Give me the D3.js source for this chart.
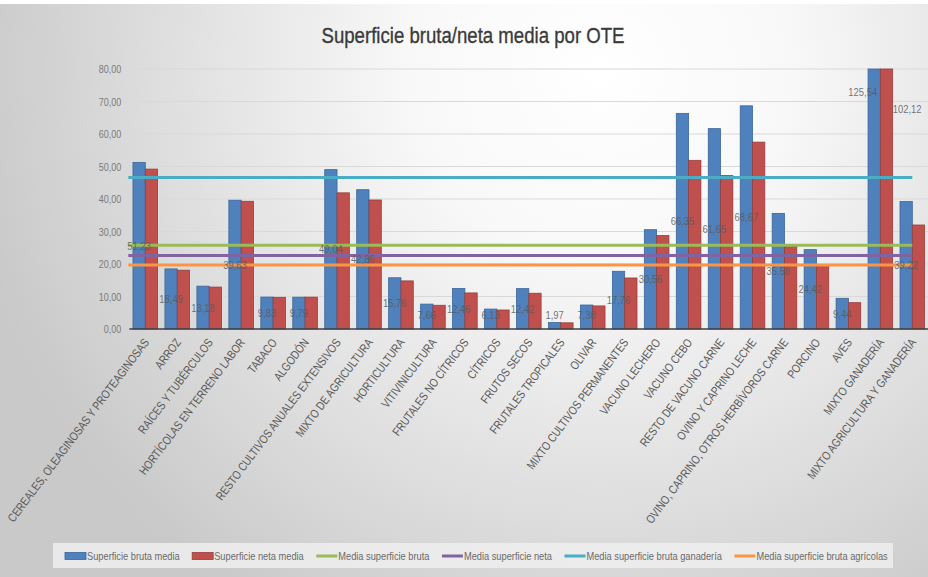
<!DOCTYPE html>
<html>
<head>
<meta charset="utf-8">
<script src="https://cdn.jsdelivr.net/npm/d3@7"></script>
<style>
  html, body { margin: 0; padding: 0; background: #fff; }
  svg { display: block; }
  text { font-family: "Liberation Sans", Arial, sans-serif; }
</style>
</head>
<body>
<svg id="chart" width="928" height="577"></svg>
<script>
// ---------------- DATA ----------------
const title = "Superficie bruta/neta media por OTE";
const categories = [
  "CEREALES, OLEAGINOSAS Y PROTEAGINOSAS", "ARROZ", "RAÍCES Y TUBÉRCULOS",
  "HORTÍCOLAS EN TERRENO LABOR", "TABACO", "ALGODÓN",
  "RESTO CULTIVOS ANUALES EXTENSIVOS", "MIXTO DE AGRICULTURA", "HORTICULTURA",
  "VITIVINICULTURA", "FRUTALES NO CÍTRICOS", "CÍTRICOS", "FRUTOS SECOS",
  "FRUTALES TROPICALES", "OLIVAR", "MIXTO CULTIVOS PERMANENTES",
  "VACUNO LECHERO", "VACUNO CEBO", "RESTO DE VACUNO CARNE",
  "OVINO Y CAPRINO LECHE", "OVINO, CAPRINO, OTROS HERBÍVOROS CARNE",
  "PORCINO", "AVES", "MIXTO GANADERÍA", "MIXTO AGRICULTURA Y GANADERÍA"
];
const superficieBrutaMedia = [51.23, 18.49, 13.18, 39.63, 9.83, 9.79, 49.04, 42.86, 15.76, 7.66,
  12.46, 6.13, 12.42, 1.97, 7.38, 17.76, 30.56, 66.35, 61.65, 68.67, 35.58, 24.42, 9.44, 125.54, 39.22];
const superficieNetaMedia = [49.2, 18.1, 12.9, 39.3, 9.75, 9.8, 41.9, 39.7, 14.8, 7.3,
  11.1, 5.85, 11.0, 1.9, 7.1, 15.7, 28.8, 51.9, 47.2, 57.5, 25.5, 19.8, 8.1, 102.12, 32.0];
const mediaSuperficieBruta = 25.8;
const mediaSuperficieNeta = 22.6;
const mediaSuperficieBrutaGanaderia = 46.6;
const mediaSuperficieBrutaAgricolas = 19.7;
const yTicks = [0, 10, 20, 30, 40, 50, 60, 70, 80];
const legendLabels = ["Superficie bruta media", "Superficie neta media", "Media superficie bruta",
  "Media superficie neta", "Media superficie bruta ganadería", "Media superficie bruta agrícolas"];

// ---------------- SETUP ----------------
const W = 928, H = 577;
const svg = d3.select("#chart");
const locale = d3.formatLocale({decimal: ",", thousands: ".", grouping: [3], currency: ["", "€"]});
const fmt = locale.format(".2f");
const NARROW = 0.82; // condense Arial-metric text to narrow proportions
function condense(sel, f = NARROW) {
  sel.each(function() {
    const L = this.getComputedTextLength();
    d3.select(this).attr("textLength", L * f).attr("lengthAdjust", "spacingAndGlyphs");
  });
}

const C = {
  blue: "#4f81bd", blueStroke: "#3a669b",
  red: "#c0504d", redStroke: "#963e3b",
  green: "#9bbb59", purple: "#8064a2", cyan: "#4bacc6", orange: "#f79646"
};

// background
const defs = svg.append("defs");
const rg = defs.append("radialGradient").attr("id", "bg")
  .attr("gradientUnits", "userSpaceOnUse").attr("cx", 600).attr("cy", 70).attr("r", 640);
rg.append("stop").attr("offset", 0).attr("stop-color", "#ffffff");
rg.append("stop").attr("offset", 0.3).attr("stop-color", "#f8f8f8");
rg.append("stop").attr("offset", 1).attr("stop-color", "#c9c9c9");
svg.append("rect").attr("width", W).attr("height", H).attr("fill", "url(#bg)");
svg.append("rect").attr("width", W).attr("height", 4).attr("fill", "#ffffff");

// scales
const yMax = 80;
const x = d3.scaleBand().domain(categories).range([129.3, 928.3]).paddingInner(0.23).paddingOuter(0.115);
const y = d3.scaleLinear().domain([0, yMax]).range([329, 69]);
const sub = d3.scaleBand().domain(["bruta", "neta"]).range([0, x.bandwidth()]);

// title
svg.append("text").attr("x", 473).attr("y", 43).attr("text-anchor", "middle")
  .attr("font-size", 22.7).attr("fill", "#3a3a3a")
  .attr("stroke", "#3a3a3a").attr("stroke-width", 0.35)
  .text(title).call(condense);

// gridlines
svg.append("g").selectAll("line").data(yTicks.filter(d => d > 0)).join("line")
  .attr("x1", x.range()[0]).attr("x2", W)
  .attr("y1", d => y(d)).attr("y2", d => y(d))
  .attr("stroke", "#d9d9d9").attr("stroke-width", 1);

// y axis
const yAxis = svg.append("g").attr("transform", `translate(${x.range()[0]},0)`)
  .call(d3.axisLeft(y).tickValues(yTicks).tickFormat(fmt).tickSize(0).tickPadding(8));
yAxis.select(".domain").remove();
yAxis.selectAll("text").attr("font-size", 11).attr("fill", "#7a7a7a")
  .style("font-family", '"Liberation Sans", Arial, sans-serif').call(condense);

// bars
const clip = v => Math.min(v, yMax);
const groups = svg.append("g").selectAll("g").data(categories).join("g")
  .attr("transform", d => `translate(${x(d)},0)`);
groups.append("rect")
  .attr("x", sub("bruta")).attr("width", sub.bandwidth())
  .attr("y", (d, i) => y(clip(superficieBrutaMedia[i])))
  .attr("height", (d, i) => y(0) - y(clip(superficieBrutaMedia[i])))
  .attr("fill", C.blue).attr("stroke", C.blueStroke).attr("stroke-width", 0.8);
groups.append("rect")
  .attr("x", sub("neta")).attr("width", sub.bandwidth())
  .attr("y", (d, i) => y(clip(superficieNetaMedia[i])))
  .attr("height", (d, i) => y(0) - y(clip(superficieNetaMedia[i])))
  .attr("fill", C.red).attr("stroke", C.redStroke).attr("stroke-width", 0.8);

// x axis line
svg.append("line").attr("x1", x.range()[0]).attr("x2", W)
  .attr("y1", y(0)).attr("y2", y(0)).attr("stroke", "#404040").attr("stroke-width", 1.5);

// mean lines
const lastCenter = x(categories[categories.length - 1]) + x.bandwidth() / 2;
const means = [
  {v: mediaSuperficieBrutaGanaderia, c: C.cyan},
  {v: mediaSuperficieBruta, c: C.green},
  {v: mediaSuperficieNeta, c: C.purple},
  {v: mediaSuperficieBrutaAgricolas, c: C.orange}
];
svg.append("g").selectAll("line").data(means).join("line")
  .attr("x1", x.range()[0] - 1).attr("x2", lastCenter)
  .attr("y1", d => y(d.v)).attr("y2", d => y(d.v))
  .attr("stroke", d => d.c).attr("stroke-width", 3);

// data labels (bruta), centered in the bar
const labelG = svg.append("g").attr("font-size", 11.5).attr("fill", "#5a5a5a").attr("fill-opacity", 0.85);
superficieBrutaMedia.forEach((v, i) => {
  const cx = x(categories[i]) + sub("bruta") + sub.bandwidth() / 2;
  if (v <= yMax) {
    const cy = Math.min(y(v / 2), y(0) - 14);
    labelG.append("text").attr("x", cx).attr("y", cy).attr("dy", "0.35em")
      .attr("text-anchor", "middle").text(fmt(v));
  } else {
    labelG.append("text").attr("x", cx + 3).attr("y", y(yMax) + 23).attr("dy", "0.35em")
      .attr("text-anchor", "end").text(fmt(v));
  }
});
superficieNetaMedia.forEach((v, i) => {
  if (v > yMax) {
    const rx = x(categories[i]) + sub("neta") + sub.bandwidth();
    labelG.append("text").attr("x", rx).attr("y", y(yMax) + 40).attr("dy", "0.35em")
      .attr("text-anchor", "start").text(fmt(v));
  }
});
labelG.selectAll("text").call(condense);

// x labels
svg.append("g").selectAll("text").data(categories).join("text")
  .attr("transform", d => `translate(${x(d) + x.bandwidth() / 2 + 1},${y(0) + 11}) rotate(-53)`)
  .attr("text-anchor", "end").attr("dy", "0.35em")
  .attr("font-size", 12).attr("fill", "#595959").text(d => d).call(condense);

// legend
svg.append("rect").attr("x", 53).attr("y", 543).attr("width", 840).attr("height", 25)
  .attr("fill", "#efefef").attr("fill-opacity", 0.85);
const legendItems = [
  {label: legendLabels[0], c: C.blue, s: C.blueStroke, type: "rect"},
  {label: legendLabels[1], c: C.red, s: C.redStroke, type: "rect"},
  {label: legendLabels[2], c: C.green, type: "line"},
  {label: legendLabels[3], c: C.purple, type: "line"},
  {label: legendLabels[4], c: C.cyan, type: "line"},
  {label: legendLabels[5], c: C.orange, type: "line"}
];
let lx = 65;
const ly = 556;
legendItems.forEach(it => {
  if (it.type === "rect") {
    svg.append("rect").attr("x", lx).attr("y", ly - 3.5).attr("width", 21).attr("height", 7)
      .attr("fill", it.c).attr("stroke", it.s).attr("stroke-width", 0.8);
  } else {
    svg.append("line").attr("x1", lx).attr("x2", lx + 21).attr("y1", ly).attr("y2", ly)
      .attr("stroke", it.c).attr("stroke-width", 3);
  }
  const t = svg.append("text").attr("x", lx + 22).attr("y", ly).attr("dy", "0.35em")
    .attr("font-size", 11.3).attr("fill", "#6a6a6a").text(it.label);
  const L = t.node().getComputedTextLength() * NARROW;
  t.attr("textLength", L).attr("lengthAdjust", "spacingAndGlyphs");
  lx += 22 + L + 12.5;
});
</script>
</body>
</html>
